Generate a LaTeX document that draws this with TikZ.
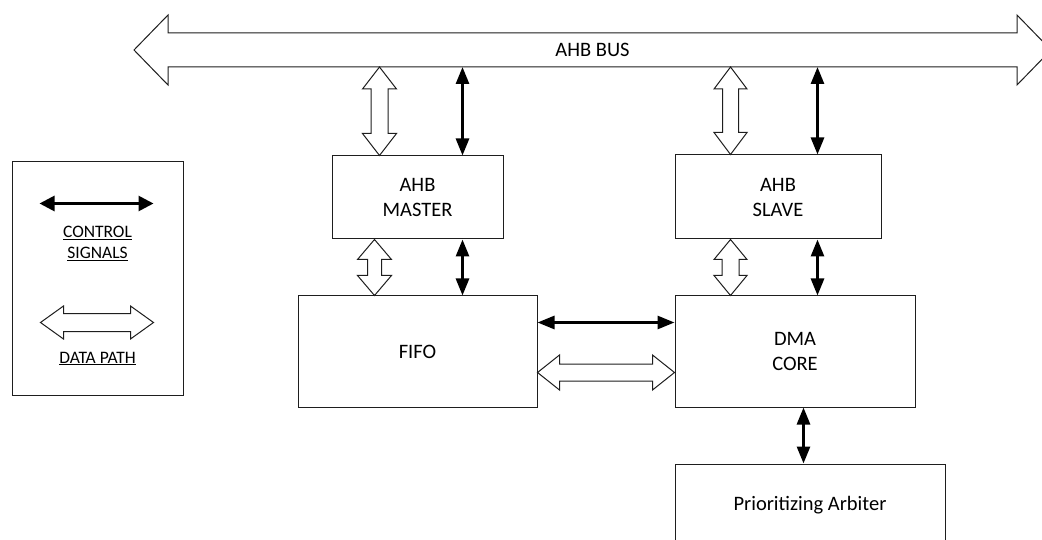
\documentclass[tikz,border=0pt]{standalone}
\usepackage{fontspec}
\setmainfont{Carlito}
\usetikzlibrary{arrows.meta,calc,positioning}
\definecolor{dmline}{RGB}{30,30,30}

% hollow double arrow, top (#1) to bottom (#2): head half width, shaft half width, head length
\newcommand{\vdata}[5]{%
  \draw[dpath] (#1) -- ($(#1)+(#3,#5)$) -- ($(#1)+(#4,#5)$) -- ($(#2)+(#4,-#5)$)
    -- ($(#2)+(#3,-#5)$) -- (#2) -- ($(#2)+(-#3,-#5)$) -- ($(#2)+(-#4,-#5)$)
    -- ($(#1)+(-#4,#5)$) -- ($(#1)+(-#3,#5)$) -- cycle;}
% same, left (#1) to right (#2)
\newcommand{\hdata}[5]{%
  \draw[dpath] (#1) -- ($(#1)+(#5,-#3)$) -- ($(#1)+(#5,-#4)$) -- ($(#2)+(-#5,-#4)$)
    -- ($(#2)+(-#5,-#3)$) -- (#2) -- ($(#2)+(-#5,#3)$) -- ($(#2)+(-#5,#4)$)
    -- ($(#1)+(#5,#4)$) -- ($(#1)+(#5,#3)$) -- cycle;}

\begin{document}
\begin{tikzpicture}[
  x=1pt, y=-1pt,
  every node/.style={font=\fontsize{20.5}{25}\selectfont, text=black},
  blk/.style={draw=dmline, line width=1pt, align=center, inner sep=0pt},
  ctrl/.style={{Triangle[length=17pt,width=13pt]}-{Triangle[length=17pt,width=13pt]},
    draw=black, line width=2.8pt},
  keyctrl/.style={ctrl, {Triangle[length=15pt,width=15pt]}-{Triangle[length=15pt,width=15pt]}},
  dpath/.style={draw=dmline, fill=white, line width=1pt, line join=miter},
  key/.style={font=\fontsize{17.5}{21}\selectfont, align=center}
]
  \useasboundingbox (0,0) rectangle (1042,540);
  \clip (0,0) rectangle (1042,540);

  % blocks
  \node[blk, minimum width=171pt, minimum height=83pt] (mst) at (417.5,197.5) {AHB\\MASTER};
  \node[blk, minimum width=239pt, minimum height=111pt, below=56pt of mst] (fifo) {FIFO};
  \node[blk, minimum width=240pt, minimum height=111pt, right=137pt of fifo] (dma) {DMA\\CORE};
  \node[blk, minimum width=206pt, minimum height=84pt, above=56pt of dma.north west,
    anchor=south west] (slv) {AHB\\SLAVE};
  \node[blk, minimum width=270pt, minimum height=82pt, below=56pt of dma.south west,
    anchor=north west] (arb) {Prioritizing Arbiter};
  \node[blk, minimum width=171pt, minimum height=233pt] (leg) at (97.5,278.5) {};

  % bus
  \coordinate (busL) at (134,50);
  \coordinate (busR) at (1051,50);
  \coordinate (busS) at (0,67);
  \hdata{busL}{busR}{35}{17}{34}
  \node (bus) at ($(busL)!0.5!(busR)$) {AHB BUS};

  % master side
  \coordinate (mdB) at ($(mst.north west)+(48,0)$);
  \coordinate (mdT) at (mdB |- busS);
  \vdata{mdT}{mdB}{17}{8.5}{22}
  \coordinate (mcB) at ($(mst.north east)+(-41,0)$);
  \draw[ctrl] (mcB |- busS) -- (mcB);
  \coordinate (mdT2) at ($(mst.south west)+(43,0)$);
  \coordinate (mdB2) at (mdT2 |- fifo.north);
  \vdata{mdT2}{mdB2}{17}{7}{20}
  \draw[ctrl] (mcB |- mst.south) -- (mcB |- fifo.north);

  % slave side
  \coordinate (sdB) at ($(slv.north west)+(56,0)$);
  \coordinate (sdT) at (sdB |- busS);
  \vdata{sdT}{sdB}{16.5}{8}{22}
  \coordinate (scB) at ($(slv.north east)+(-64,0)$);
  \draw[ctrl] (scB |- busS) -- (scB);
  \coordinate (sdT2) at (sdB |- slv.south);
  \coordinate (sdB2) at (sdB |- dma.north);
  \vdata{sdT2}{sdB2}{16.5}{8.5}{20}
  \draw[ctrl] (scB |- slv.south) -- (scB |- dma.north);

  % fifo <-> dma
  \coordinate (fcL) at ($(fifo.north east)+(0,27)$);
  \draw[ctrl] (fcL) -- (fcL -| dma.west);
  \coordinate (fdL) at ($(fifo.south east)+(0,-35)$);
  \coordinate (fdR) at (fdL -| dma.west);
  \hdata{fdL}{fdR}{17.5}{8.5}{22}

  % dma <-> arbiter
  \coordinate (acT) at ($(dma.south west)+(129,0)$);
  \draw[ctrl] (acT) -- (acT |- arb.north);

  % legend
  \coordinate (lcL) at ($(leg.north west)+(28,42)$);
  \coordinate (lcR) at ($(leg.north east)+(-30,42)$);
  \draw[keyctrl] (lcL) -- (lcR);
  \node[key] (lcTxt) at ($(leg.north)+(0,82)$) {\underline{CONTROL}\\\underline{SIGNALS}};
  \coordinate (ldL) at ($(leg.north west)+(29,161)$);
  \coordinate (ldR) at ($(leg.north east)+(-30,161)$);
  \hdata{ldL}{ldR}{16.5}{9}{23}
  \node[key] (ldTxt) at ($(leg.north)+(0,197)$) {\underline{DATA PATH}};
\end{tikzpicture}
\end{document}
